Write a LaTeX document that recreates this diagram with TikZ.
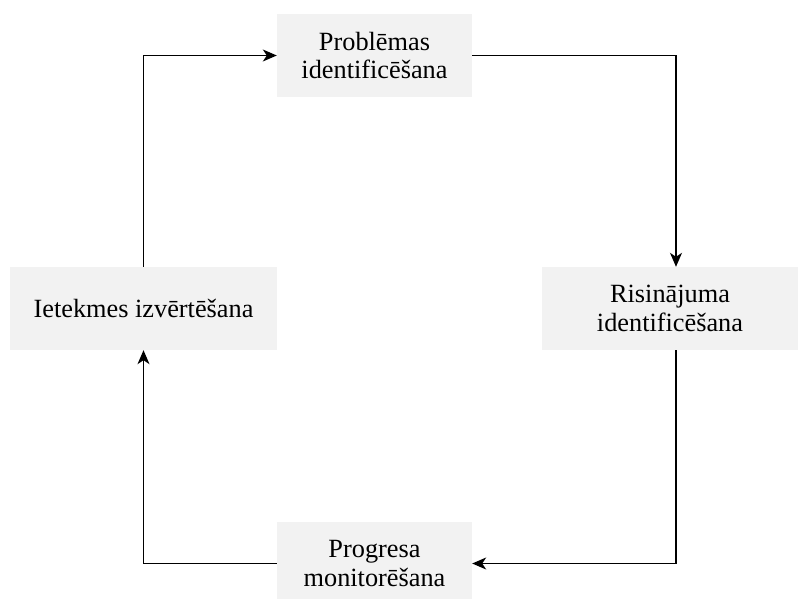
\documentclass[tikz,border=0pt]{standalone}
\usepackage{fontspec}
\setmainfont{Liberation Serif}
\usetikzlibrary{arrows.meta}
\definecolor{boxgray}{HTML}{F2F2F2}
\tikzset{
  stagebox/.style={fill=boxgray, draw=none, inner sep=0pt, align=center,
    minimum height=83pt, font=\fontsize{26.3}{28.5}\selectfont},
  flow/.style={draw=black, line width=1.2pt,
    -{Stealth[length=14pt,width=12pt,inset=4pt]}},
}
\begin{document}
\begin{tikzpicture}[x=1pt,y=1pt]
  \useasboundingbox (0,0) rectangle (798,598);
  % the four stages of the cycle
  \node[stagebox, minimum width=195pt] (prob) at (374.5,542.5) {Problēmas\\identificēšana};
  \node[stagebox, minimum width=256pt] (ris) at (670,289.5) {Risinājuma\\identificēšana};
  \node[stagebox, minimum width=267pt] (iet) at (143.5,289.5) {Ietekmes izvērtēšana};
  \node[stagebox, minimum width=195pt] (prog) at (374.5,34.5) {Progresa\\monitorēšana};
  % connectors running clockwise
  \draw[flow] (prob.east) -| ([xshift=6pt]ris.north);
  \draw[flow] ([xshift=6pt]ris.south) |- (prog.east);
  \draw[flow] (prog.west) -| (iet.south);
  \draw[flow] (iet.north) |- (prob.west);
\end{tikzpicture}
\end{document}
